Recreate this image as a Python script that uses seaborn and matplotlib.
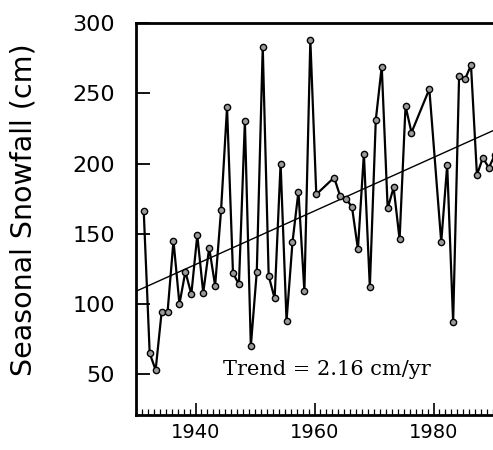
import numpy as np
import pandas as pd
import seaborn as sns
import matplotlib.pyplot as plt

# winter seasons (start year) and snowfall
seasons = [1931, 1932, 1933, 1934, 1935, 1936, 1937, 1938, 1939, 1940,
           1941, 1942, 1943, 1944, 1945, 1946, 1947, 1948, 1949, 1950,
           1951, 1952, 1953, 1954, 1955, 1956, 1957, 1958, 1959, 1960,
           1963, 1964, 1965, 1966, 1967, 1968, 1969, 1970, 1971, 1972,
           1973, 1974, 1975, 1976, 1979, 1981, 1982, 1983, 1984, 1985,
           1986, 1987, 1988, 1989, 1990]
snowfall = [166, 65, 53, 94, 94, 145, 100, 123, 107, 149,
            108, 140, 113, 167, 240, 122, 114, 230, 70, 123,
            283, 120, 104, 200, 88, 144, 180, 109, 288, 178,
            190, 177, 175, 169, 139, 207, 112, 231, 269, 168,
            183, 146, 241, 222, 253, 144, 199, 87, 262, 260,
            270, 192, 204, 197, 206]
y_ticks = [50, 100, 150, 200, 250, 300]
x_ticks = [1940, 1960, 1980]
trend_label = "Trend = 2.16 cm/yr"

df = pd.DataFrame({"year": np.array(seasons) + 0.3, "snow": snowfall})

sns.set_style("ticks")
plt.rcParams["font.family"] = ["DejaVu Sans"]
for key in ["text.color", "axes.labelcolor", "xtick.color", "ytick.color",
            "axes.edgecolor"]:
    plt.rcParams[key] = "black"

fig = plt.figure(figsize=(4.93, 4.5), dpi=100)
ax = fig.add_axes([136 / 493, 35 / 450, 357 / 493, 392 / 450])
ax.set_xlim(1930, 1990)
ax.set_ylim(21, 300)

sns.regplot(data=df, x="year", y="snow", ax=ax, scatter=False, ci=None,
            truncate=False, color="black", line_kws={"linewidth": 1.0})
sns.lineplot(data=df, x="year", y="snow", ax=ax, color="black",
             linewidth=1.6, marker="o", markersize=4.5,
             markerfacecolor="#9a9a9a", markeredgecolor="black",
             markeredgewidth=1.0)

ax.set_xticks(x_ticks)
ax.set_xticks(np.arange(1930, 1991, 1), minor=True)
ax.set_yticks(y_ticks)
ax.tick_params(axis="y", direction="in", length=10, width=1.3,
               labelsize=16, pad=15)
ax.tick_params(axis="x", which="major", direction="in", length=9,
               width=1.2, labelsize=14, pad=6)
ax.tick_params(axis="x", which="minor", direction="in", length=4, width=0.9)
ax.set_xlabel("")
ax.set_ylabel("")

for side in ["left", "bottom", "top"]:
    ax.spines[side].set_linewidth(2.0)
ax.spines["right"].set_visible(False)

ax.text(0.535, 0.115, trend_label, transform=ax.transAxes, ha="center",
        va="center", fontsize=15, family=["DejaVu Serif"])
fig.text(24 / 493, 1 - 210 / 450, "Seasonal Snowfall (cm)", rotation=90,
         ha="center", va="center", fontsize=20.5)

fig.savefig("out.png", dpi=100)
